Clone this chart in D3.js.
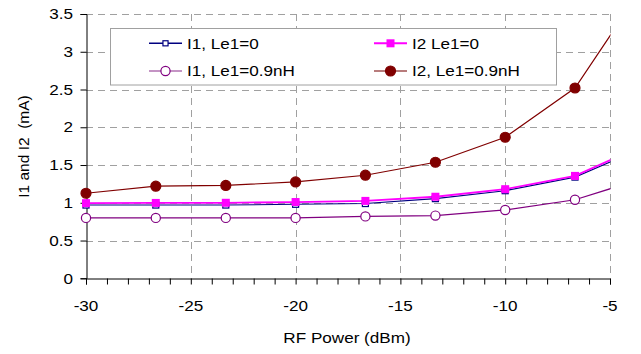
<!DOCTYPE html>
<html>
<head>
<meta charset="utf-8">
<script src="https://cdn.jsdelivr.net/npm/d3@7"></script>
<style>
body { margin: 0; background: #fff; }
text { font-family: "Liberation Sans", Arial, sans-serif; fill: #000; }
</style>
</head>
<body>
<script>
// RF power sweep, last point sits past the axis end and gets clipped
var power = [-30, -26.67, -23.33, -20, -16.67, -13.33, -10, -6.67, -3.33];
var i1_le0 = [0.97, 0.97, 0.97, 0.98, 0.99, 1.055, 1.16, 1.34, 1.74];
var i2_le0 = [0.995, 0.998, 1.0, 1.01, 1.025, 1.08, 1.18, 1.356, 1.77];
var i1_le09 = [0.80, 0.80, 0.80, 0.80, 0.82, 0.83, 0.905, 1.04, 1.33];
var i2_le09 = [1.126, 1.22, 1.23, 1.276, 1.365, 1.537, 1.868, 2.52, 3.9];

var yTicks = [0, 0.5, 1, 1.5, 2, 2.5, 3, 3.5];
var xTicks = [-30, -25, -20, -15, -10, -5];

var series = [
  {name: "I1, Le1=0", vals: i1_le0, color: "#000080", legColor: "#000080", shape: "square", fill: "#fff", size: 6, lw: 1.1},
  {name: "I2 Le1=0", vals: i2_le0, color: "#ff00ff", legColor: "#ff00ff", shape: "square", fill: "#ff00ff", size: 8, lw: 1.8},
  {name: "I1, Le1=0.9nH", vals: i1_le09, color: "#800080", legColor: "#b070b0", shape: "circle", fill: "#fff", size: 4.6, lw: 1.2},
  {name: "I2, Le1=0.9nH", vals: i2_le09, color: "#800000", legColor: "#a05050", shape: "circle", fill: "#800000", size: 5, lw: 1.2}
];

var W = 641, H = 354;
var plotL = 86, plotR = 610, plotT = 14, plotB = 278.3;
var sx = 1.18;

var svg = d3.select("body").append("svg")
  .attr("width", W)
  .attr("height", H);

var x = d3.scaleLinear().domain([-30, -5]).range([plotL, plotR]);
var y = d3.scaleLinear().domain([0, 3.5]).range([plotB, plotT]);

svg.append("defs").append("clipPath").attr("id", "clip")
  .append("rect").attr("x", 0).attr("y", 0).attr("width", plotR + 0.5).attr("height", H);

// grid
svg.append("g").selectAll("line")
  .data(yTicks.filter(function(d) { return d > 0; }))
  .enter().append("line")
  .attr("x1", plotL).attr("x2", plotR)
  .attr("y1", function(d) { return Math.round(y(d)) + 0.5; })
  .attr("y2", function(d) { return Math.round(y(d)) + 0.5; })
  .attr("stroke", "#a0a0a0").attr("stroke-dasharray", "7,5");

svg.append("g").selectAll("line")
  .data(xTicks.filter(function(d) { return d > -30; }))
  .enter().append("line")
  .attr("x1", function(d) { return Math.round(x(d)) + 0.5; })
  .attr("x2", function(d) { return Math.round(x(d)) + 0.5; })
  .attr("y1", plotT).attr("y2", plotB)
  .attr("stroke", "#a0a0a0").attr("stroke-dasharray", "7,5");

// axes
var xAxis = svg.append("g")
  .attr("transform", "translate(0," + (Math.round(plotB) + 0.5) + ")")
  .call(d3.axisBottom(x).tickValues(d3.range(-30, -4, 1)).tickSize(6).tickFormat(""));
xAxis.select(".domain").attr("stroke", "#000");
xAxis.selectAll(".tick line").attr("stroke", "#000");

svg.append("g").selectAll("text")
  .data(xTicks)
  .enter().append("text")
  .attr("transform", function(d) { return "translate(" + x(d) + ",310.5) scale(" + sx + ",1)"; })
  .attr("text-anchor", "middle")
  .style("font-size", "14.5px")
  .text(function(d) { return d; });

var yAxis = svg.append("g")
  .attr("transform", "translate(" + (plotL + 0.5) + ",0)")
  .call(d3.axisLeft(y).tickValues(yTicks).tickSize(6).tickFormat(""));
yAxis.select(".domain").attr("stroke", "#000");
yAxis.selectAll(".tick line").attr("stroke", "#000");

svg.append("g").selectAll("text")
  .data(yTicks)
  .enter().append("text")
  .attr("transform", function(d) { return "translate(73," + (y(d) + 5.2) + ") scale(" + sx + ",1)"; })
  .attr("text-anchor", "end")
  .style("font-size", "14.5px")
  .text(function(d) { return d; });

// titles
svg.append("text")
  .attr("transform", "translate(347,343) scale(" + sx + ",1)")
  .attr("text-anchor", "middle")
  .style("font-size", "14.5px")
  .text("RF Power (dBm)");

svg.append("text")
  .attr("transform", "translate(29,146.5) rotate(-90)")
  .attr("text-anchor", "middle")
  .style("font-size", "15.5px")
  .style("white-space", "pre")
  .text("I1 and I2  (mA)");

// series
var line = d3.line()
  .x(function(d) { return x(d[0]); })
  .y(function(d) { return y(d[1]); });

var plot = svg.append("g").attr("clip-path", "url(#clip)");

series.forEach(function(s) {
  var pts = power.map(function(p, i) { return [p, s.vals[i]]; });
  plot.append("path")
    .datum(pts)
    .attr("fill", "none")
    .attr("stroke", s.color)
    .attr("stroke-width", s.lw)
    .attr("d", line);
});

function marker(g, s, cx, cy, scale) {
  var k = scale || 1;
  if (s.shape == "square") {
    var a = s.size * k;
    g.append("rect")
      .attr("x", cx - a / 2).attr("y", cy - a / 2)
      .attr("width", a).attr("height", a)
      .attr("fill", s.fill)
      .attr("stroke", s.color)
      .attr("stroke-width", s.fill == "#fff" ? 1.2 : 0);
  } else {
    g.append("circle")
      .attr("cx", cx).attr("cy", cy).attr("r", s.size * k)
      .attr("fill", s.fill)
      .attr("stroke", s.color)
      .attr("stroke-width", 1.2);
  }
}

series.forEach(function(s) {
  power.forEach(function(p, i) {
    marker(plot, s, x(p), y(s.vals[i]));
  });
});

// legend
var leg = svg.append("g");
leg.append("rect")
  .attr("x", 110.5).attr("y", 28.5)
  .attr("width", 446).attr("height", 56.5)
  .attr("fill", "#fff")
  .attr("stroke", "#a0a0a0");

var legPos = [
  {s: series[0], x: 149, y: 43.3},
  {s: series[2], x: 149, y: 71},
  {s: series[1], x: 374, y: 43.3},
  {s: series[3], x: 374, y: 71}
];

legPos.forEach(function(p) {
  leg.append("line")
    .attr("x1", p.x).attr("x2", p.x + 33)
    .attr("y1", p.y).attr("y2", p.y)
    .attr("stroke", p.s.legColor)
    .attr("stroke-width", p.s.lw + 0.3);
  marker(leg, p.s, p.x + 16.5, p.y, p.s.shape == "square" && p.s.fill == "#fff" ? 0.85 : 1);
  leg.append("text")
    .attr("transform", "translate(" + (p.x + 38) + "," + (p.y + 5.2) + ") scale(" + sx + ",1)")
    .style("font-size", "14.5px")
    .text(p.s.name);
});
</script>
</body>
</html>
